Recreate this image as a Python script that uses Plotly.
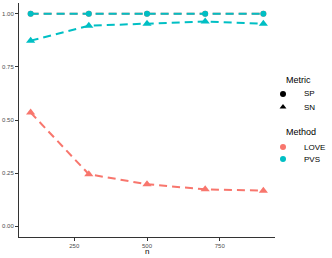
import plotly.graph_objects as go

n_vals = [100, 300, 500, 700, 900]
love_sp = [1.0, 1.0, 1.0, 1.0, 1.0]
love_sn = [0.535, 0.245, 0.198, 0.174, 0.168]
pvs_sp = [1.0, 1.0, 1.0, 1.0, 1.0]
pvs_sn = [0.873, 0.943, 0.953, 0.963, 0.952]
x_ticks = [250, 500, 750]
y_ticks = [0.0, 0.25, 0.5, 0.75, 1.0]
y_labels = ["0.00", "0.25", "0.50", "0.75", "1.00"]
metric_labels = ["SP", "SN"]
method_labels = ["LOVE", "PVS"]

RED = "#F8766D"
TEAL = "#00BFC4"
FONT = "Liberation Sans, Arial, sans-serif"

W, H = 332, 258
ML, MR, MT, MB = 19, 57, 3, 21
PW, PH = W - ML - MR, H - MT - MB


def px(x):
    return (x - ML) / PW


def py(y):
    return (H - MB - y) / PH


fig = go.Figure()

series = [
    (love_sp, RED, "circle", 6),
    (love_sn, RED, "triangle-up", 8),
    (pvs_sp, TEAL, "circle", 6),
    (pvs_sn, TEAL, "triangle-up", 8),
]
for ys, col, sym, sz in series:
    fig.add_trace(go.Scatter(
        x=n_vals, y=ys, mode="lines+markers",
        line=dict(color=col, width=2, dash="8px,5px"),
        marker=dict(color=col, symbol=sym, size=sz),
        showlegend=False, hoverinfo="skip",
    ))

legend_items = [
    ("legend", metric_labels[0], "black", "circle", 94),
    ("legend2", metric_labels[1], "black", "triangle-up", 107),
    ("legend3", method_labels[0], RED, "circle", 147),
    ("legend4", method_labels[1], TEAL, "circle", 159),
]
layout_legends = {}
annotations = []
for lg, label, col, sym, yc in legend_items:
    fig.add_trace(go.Scatter(
        x=[None], y=[None], mode="markers", name=" ",
        marker=dict(color=col, symbol=sym, size=6),
        legend=lg,
    ))
    layout_legends[lg] = dict(
        font=dict(family=FONT, size=8, color="black"),
        xref="container", yref="container",
        x=(291 - 28) / W, y=1 - yc / H,
        xanchor="left", yanchor="middle", itemwidth=30,
        bgcolor="rgba(0,0,0,0)", borderwidth=0,
    )
    annotations.append(dict(
        text=label, xref="paper", yref="paper", x=px(302), y=py(yc),
        xanchor="left", yanchor="middle", showarrow=False,
        font=dict(family=FONT, size=8, color="black")))

annotations += [
    dict(text="Metric", xref="paper", yref="paper", x=px(284), y=py(80),
         xanchor="left", yanchor="middle", showarrow=False,
         font=dict(family=FONT, size=9, color="black")),
    dict(text="Method", xref="paper", yref="paper", x=px(284), y=py(132),
         xanchor="left", yanchor="middle", showarrow=False,
         font=dict(family=FONT, size=9, color="black")),
    dict(text="n", xref="paper", yref="paper", x=px(147), y=py(251),
         xanchor="center", yanchor="middle", showarrow=False,
         font=dict(family=FONT, size=8, color="black")),
]

axis_common = dict(
    showgrid=False, zeroline=False, showline=True, linecolor="#333333", linewidth=1,
    ticks="outside", ticklen=3, tickcolor="#333333", tickwidth=1,
    tickfont=dict(family=FONT, size=6, color="#4D4D4D"),
)

fig.update_layout(
    width=W, height=H,
    margin=dict(l=ML, r=MR, t=MT, b=MB, autoexpand=False),
    plot_bgcolor="white", paper_bgcolor="white",
    hovermode=False,
    xaxis=dict(range=[60, 940], tickvals=x_ticks, **axis_common),
    yaxis=dict(range=[-0.05, 1.05], tickvals=y_ticks, ticktext=y_labels, **axis_common),
    annotations=annotations,
    **layout_legends,
)

fig.write_html("out.html", config={"displayModeBar": False},
               post_script="document.body.style.margin='0';document.body.style.padding='0';")
